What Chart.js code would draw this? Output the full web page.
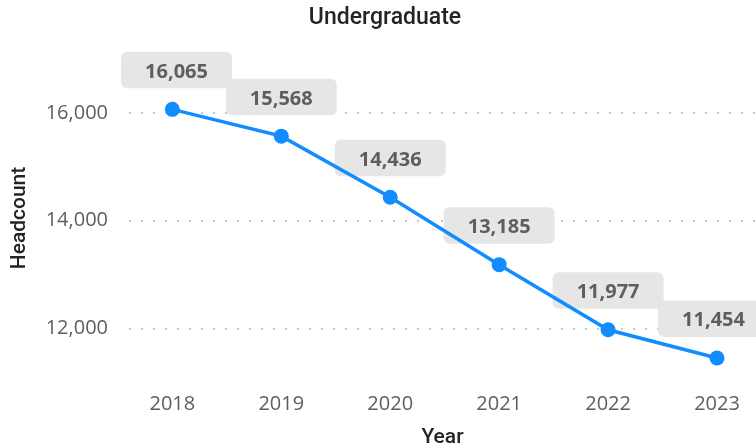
<!DOCTYPE html>
<html>
<head>
<meta charset="utf-8">
<script src="https://cdn.jsdelivr.net/npm/chart.js@4.4.1/dist/chart.umd.min.js"></script>
<style>
  html, body { margin: 0; padding: 0; background: #fff; }
</style>
</head>
<body>
<canvas id="chart" width="756" height="448"></canvas>
<script>
const chartTitle = 'Undergraduate';
const years = [2018, 2019, 2020, 2021, 2022, 2023];
const headcount = [16065, 15568, 14436, 13185, 11977, 11454];
const yTicks = [12000, 14000, 16000];

const fmt = v => v.toLocaleString('en-US');

// caixas cinzentas com o valor acima de cada ponto
const valueLabels = {
  id: 'valueLabels',
  beforeDatasetsDraw(chart) {
    const ctx = chart.ctx;
    const meta = chart.getDatasetMeta(0);
    const w = 111, h = 36.5;
    ctx.save();
    ctx.font = 'bold 20px "Open Sans"';
    ctx.textAlign = 'center';
    ctx.textBaseline = 'middle';
    meta.data.forEach((pt, i) => {
      let cx = Math.max(pt.x, 121 + w / 2);
      cx = Math.min(cx, 769 - w / 2);
      const top = pt.y - 21 - h;
      ctx.fillStyle = '#E6E6E6';
      ctx.beginPath();
      ctx.roundRect(cx - w / 2, top, w, h, 6);
      ctx.fill();
      ctx.fillStyle = '#605E5C';
      ctx.fillText(fmt(headcount[i]), cx, top + h / 2 + 2);
    });
    ctx.restore();
  }
};

// titulo do grafico
const topTitle = {
  id: 'topTitle',
  afterDraw(chart) {
    const ctx = chart.ctx;
    ctx.save();
    ctx.font = '500 23px Roboto';
    ctx.fillStyle = '#252423';
    ctx.textAlign = 'center';
    ctx.textBaseline = 'middle';
    ctx.fillText(chartTitle, 385, 18);
    ctx.restore();
  }
};

new Chart(document.getElementById('chart'), {
  type: 'line',
  data: {
    datasets: [{
      label: 'Headcount',
      data: years.map((y, i) => ({ x: y, y: headcount[i] })),
      borderColor: '#118DFF',
      backgroundColor: '#118DFF',
      borderWidth: 3.5,
      pointRadius: 7.5,
      pointBorderWidth: 0,
      tension: 0,
      clip: false
    }]
  },
  options: {
    responsive: false,
    animation: false,
    layout: { autoPadding: false, padding: { top: 46, left: 0, right: 0, bottom: 0 } },
    plugins: {
      legend: { display: false },
      tooltip: { enabled: false }
    },
    scales: {
      x: {
        type: 'linear',
        min: 2017.602,
        max: 2023.358,
        afterBuildTicks: s => { s.ticks = years.map(v => ({ value: v })); },
        afterFit: s => { s.height = 58; s.paddingLeft = 0; s.paddingRight = 0; },
        grid: { display: false, drawTicks: false },
        border: { display: false },
        ticks: {
          padding: 2,
          color: '#605E5C',
          font: { family: 'Open Sans', size: 20 },
          callback: v => String(v)
        },
        title: {
          display: true,
          text: 'Year',
          color: '#252423',
          font: { family: 'Roboto', size: 21, weight: '500', lineHeight: 1 },
          padding: { top: 0, bottom: 0 }
        }
      },
      y: {
        min: 10860,
        max: 17240,
        afterBuildTicks: s => { s.ticks = yTicks.map(v => ({ value: v })); },
        afterFit: s => { s.width = 129; s.paddingTop = 0; s.paddingBottom = 0; },
        grid: {
          color: '#C8C6C4',
          lineWidth: 2,
          drawTicks: false
        },
        border: { display: false, dash: [2, 10] },
        ticks: {
          padding: 21,
          color: '#605E5C',
          font: { family: 'Open Sans', size: 20 },
          callback: v => fmt(v)
        },
        title: {
          display: true,
          text: 'Headcount',
          color: '#252423',
          font: { family: 'Roboto', size: 21, weight: '500', lineHeight: 1 },
          padding: { top: 9.5, bottom: 0 }
        }
      }
    }
  },
  plugins: [valueLabels, topTitle]
});
</script>
</body>
</html>
